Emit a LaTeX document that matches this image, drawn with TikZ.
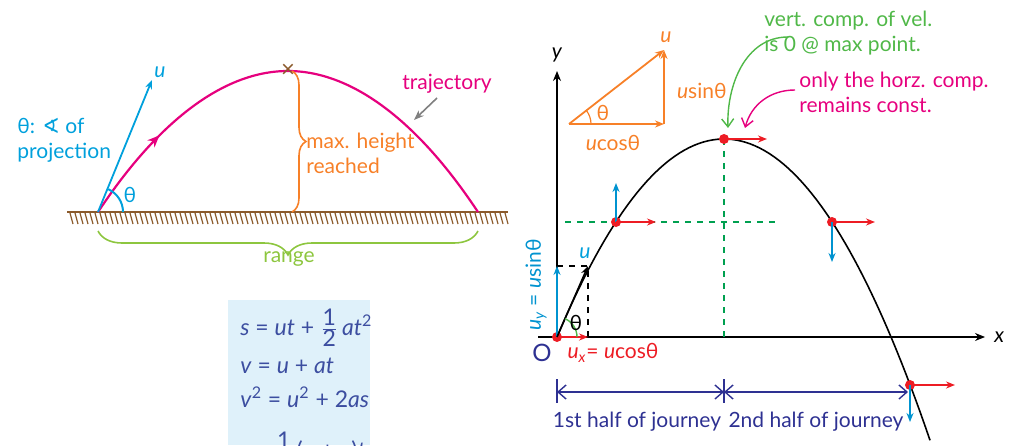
\documentclass[tikz,border=0pt]{standalone}
\usepackage{fontspec}
\setmainfont{Lato}
\newfontfamily\dejavu{DejaVu Sans}
\usepackage{tikz}
\usetikzlibrary{arrows.meta,positioning,calc,decorations.pathreplacing,decorations.markings}
\definecolor{trajpink}{RGB}{230,0,126}
\definecolor{velcyan}{RGB}{0,160,220}
\definecolor{compblue}{RGB}{0,147,208}
\definecolor{hitred}{RGB}{237,28,36}
\definecolor{peakorange}{RGB}{247,128,40}
\definecolor{rangegreen}{RGB}{141,198,63}
\definecolor{notegreen}{RGB}{80,184,72}
\definecolor{dashgreen}{RGB}{0,160,80}
\definecolor{groundbrown}{RGB}{139,90,43}
\definecolor{journeyblue}{RGB}{46,49,146}
\definecolor{eqbg}{RGB}{223,241,250}
\definecolor{eqblue}{RGB}{60,78,160}
\newcommand{\ang}{{\dejavu ∢}}

\begin{document}
\begin{tikzpicture}[x=0.5pt, y=0.5pt,
    font=\fontsize{10.5}{12.5}\selectfont,
    vec/.style={-{Stealth[length=4.5pt, width=3.5pt]}, line width=0.9pt},
    barb/.style={-{Straight Barb[length=4pt, width=6pt]}, line width=0.7pt},
    dimline/.style={{Straight Barb[length=4pt, width=7pt]}-{Straight Barb[length=4pt, width=7pt]}, line width=0.7pt, journeyblue},
    dot/.style={circle, fill=hitred, inner sep=0pt, minimum size=5pt},
    txt/.style={inner sep=0pt, align=left}
]
    \useasboundingbox (0,0) rectangle (1015,445);

    % ---------- left: projectile over ground ----------
    \coordinate (launch) at (98,233);
    \coordinate (top) at (288,374);
    \coordinate (land) at (478,233);
    \draw[groundbrown, line width=1.3pt] (67,233) -- (508,233);
    \foreach \h in {70,75,...,505}
        \draw[groundbrown, line width=0.6pt] (\h,232) -- (\h+3,221);

    \draw[trajpink, line width=1.1pt,
        postaction={decorate, decoration={markings,
            mark=at position 0.2 with {\arrow{Stealth[length=6pt, width=5pt]}}}}]
        (launch) parabola bend (top) (land);

    \coordinate (utip) at (152,365);
    \draw[vec, velcyan] (launch) -- (utip);
    \node[velcyan, anchor=south west, inner sep=1pt] (ulab) at (utip) {\textit{u}};
    \draw[velcyan, line width=1pt] ($(launch)+(25,0)$) arc[start angle=0, end angle=66, radius=25];
    \node[velcyan] (th) at (130,250) {θ};
    \node[txt, velcyan, anchor=west] (projlab) at (17,305) {θ: \ang\ of\\projection};

    \node[groundbrown, font=\fontsize{12}{12}\selectfont, inner sep=0pt] (cross) at (top) {×};
    \draw[peakorange, line width=0.8pt, decorate, decoration={brace, amplitude=7}]
        (292,374) -- (292,233);
    \node[txt, peakorange, anchor=west] (hmax) at (306,292) {max. height\\reached};

    \node[trajpink] (trajlab) at (447,361) {trajectory};
    \coordinate (trajpt) at (414,325);
    \draw[-{Stealth[length=5pt]}, gray, line width=0.8pt] (437,347) -- (trajpt);

    \draw[rangegreen, line width=0.8pt, decorate, decoration={brace, amplitude=12}]
        (478,214) -- (98,214);
    \node[rangegreen] (rangelab) at (289,186) {range};

    % equations
    \fill[eqbg] (228,0) rectangle (370,145);
    \begin{scope}[eqblue, font=\fontsize{11.5}{13}\selectfont]
        \node[anchor=west, inner sep=0pt] (eq1) at (240,117) {\textit{s} = \textit{ut} + $\frac{\textrm{\fontsize{11.5}{13}\selectfont\textup{1}}}{\textrm{\fontsize{11.5}{13}\selectfont\textup{2}}}$\,\textit{at}\textsuperscript{2}};
        \node[anchor=west, inner sep=0pt] (eq2) at (240,79) {\textit{v} = \textit{u} + \textit{at}};
        \node[anchor=west, inner sep=0pt] (eq3) at (240,48) {\textit{v}\textsuperscript{2} = \textit{u}\textsuperscript{2} + 2\textit{as}};
        \begin{scope}
            \clip (228,0) rectangle (370,145);
            \node[anchor=west, inner sep=0pt] (eq4) at (240,-6) {\textit{s} = $\frac{\textrm{\fontsize{11.5}{13}\selectfont\textup{1}}}{\textrm{\fontsize{11.5}{13}\selectfont\textup{2}}}$\,(\textit{u} + \textit{v})\textit{t}};
        \end{scope}
    \end{scope}

    % ---------- right: components along the path ----------
    \coordinate (O) at (557,108);
    \draw[-{Stealth[length=5pt, width=4pt]}, line width=0.7pt] (538,108) -- (985,108) node[right=1pt] (xlab) {\textit{x}};
    \draw[-{Stealth[length=5pt, width=4pt]}, line width=0.7pt] (O) -- (557,374) node[above=1pt] (ylab) {\textit{y}};
    \node[journeyblue, font=\fontsize{12}{12}\selectfont] (olab) at (542,92) {O};

    \draw[dashgreen, dashed, line width=0.8pt] (565,223) -- (780,223);
    \draw[dashgreen, dashed, line width=0.8pt] (724,306) -- (724,108);

    \draw[line width=0.8pt, samples=80, domain=557:930]
        plot (\x, {306-198*((\x-724)/167)^2});

    \node[dot] (p0) at (O) {};
    \node[dot] (p1) at (616,223) {};
    \node[dot] (p2) at (724,306) {};
    \node[dot] (p3) at (832,223) {};
    \node[dot] (p4) at (910,60) {};

    \coordinate (uxy) at (588,179);
    \draw[dashed, line width=0.7pt] (557,179) -- (uxy) -- (588,108);
    \draw[vec, compblue] (p0.center) -- (557,179);
    \draw[vec, hitred] (p0.center) -- (588,108);
    \draw[vec, black, line width=0.8pt] (p0.center) -- (uxy);
    \node[velcyan] (u2) at (585,192) {\textit{u}};
    \draw[notegreen, line width=0.7pt] ($(O)+(20,0)$) arc[start angle=0, end angle=66, radius=20];
    \node (th2) at (576,122) {θ};
    \node[compblue, rotate=90] (uylab) at (536,160) {\textit{u}\textsubscript{\textit{y}} = \textit{u}sinθ};
    \node[hitred] (uxlab) at (613,92) {\textit{u}\textsubscript{\textit{x}}= \textit{u}cosθ};

    \draw[vec, compblue] (p1.center) -- ++(0,39);
    \draw[vec, hitred] (p1.center) -- ++(40,0);
    \draw[vec, hitred] (p2.center) -- ++(43,0);
    \draw[vec, hitred] (p3.center) -- ++(43,0);
    \draw[vec, compblue] (p3.center) -- ++(0,-40);
    \draw[vec, hitred] (p4.center) -- ++(45,0);
    \draw[vec, compblue] (p4.center) -- ++(0,-37);

    % velocity triangle
    \coordinate (ta) at (569,321);
    \coordinate (tb) at (664,321);
    \coordinate (tc) at (664,395);
    \draw[vec, peakorange] (ta) -- (tb);
    \draw[vec, peakorange] (tb) -- (tc);
    \draw[vec, peakorange] (ta) -- (tc);
    \draw[peakorange, line width=0.6pt] ($(ta)+(22,0)$) arc[start angle=0, end angle=38, radius=22];
    \node[peakorange] (tu) at (666,408) {\textit{u}};
    \node[peakorange, anchor=west] (tsin) at (670,354) {\textit{u}sinθ};
    \node[peakorange] (tcos) at (613,302) {\textit{u}cosθ};
    \node[peakorange] (tth) at (603,332) {θ};

    % notes
    \node[txt, notegreen, anchor=west] (vnote) at (764,412) {vert. comp. of vel.\\is 0 @ max point.};
    \node[txt, trajpink, anchor=west] (hnote) at (799,353) {only the horz. comp.\\remains const.};
    \draw[barb, notegreen] (788,408) to[out=180, in=92] ($(p2)+(4,11)$);
    \draw[barb, trajpink] (795,355) to[out=180, in=75] ($(p2)+(21,11)$);

    % halves of the journey
    \coordinate (j0) at (557,53);
    \coordinate (j1) at (724,53);
    \coordinate (j2) at (908,53);
    \draw[journeyblue, line width=0.7pt] (557,66) -- (557,42);
    \draw[journeyblue, line width=0.7pt] (724,66) -- (724,42);
    \draw[dimline] (j0) -- (j1);
    \draw[dimline] (j1) -- (j2);
    \node[journeyblue] (half1) at (637,23) {1st half of journey};
    \node[journeyblue] (half2) at (816,23) {2nd half of journey};
\end{tikzpicture}
\end{document}
